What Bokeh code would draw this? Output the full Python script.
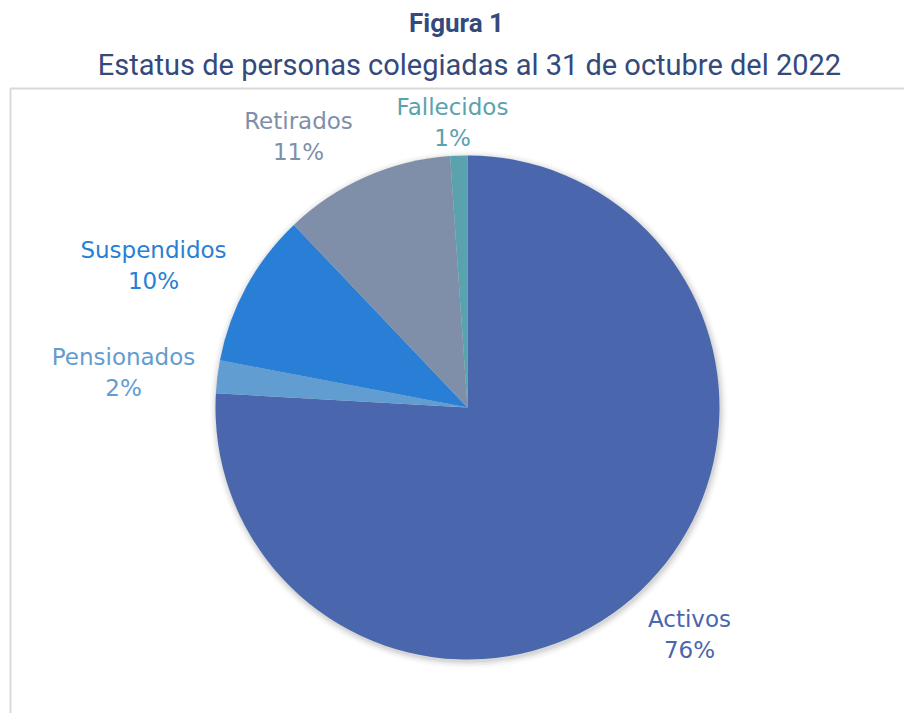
import numpy as np
from bokeh.plotting import figure
from bokeh.models import Range1d, ColumnDataSource
from bokeh.core.properties import value
from bokeh.embed import file_html
from bokeh.resources import INLINE

# ---- data ----
categories = ["Activos", "Pensionados", "Suspendidos", "Retirados", "Fallecidos"]
values = [75.9, 2.1, 9.9, 11.0, 1.1]
colors = ["#4A66AC", "#629DD1", "#297FD5", "#7F8FA9", "#5AA2AE"]
# label anchor points (page px: x, y of first line)
label_x = [689, 123, 153, 298, 452]
label_y = [618, 356, 249, 120, 106]

title_text = "Figura 1"
subtitle_text = "Estatus de personas colegiadas al 31 de octubre del 2022"
title_color = "#34497C"

W, H = 904, 713
def Y(py):
    return H - py

p = figure(width=W, height=H, output_backend="svg", toolbar_location=None,
           x_range=Range1d(0, W), y_range=Range1d(0, H), min_border=0)
p.axis.visible = False
p.grid.visible = False
p.outline_line_color = None
p.background_fill_color = "white"
p.border_fill_color = "white"

# frame around the chart area
p.quad(left=[10], right=[960], bottom=[Y(780)], top=[Y(88)],
       fill_color=None, line_color="#D9D9D9", line_width=2)

# pie
cx, cy, r = 467, Y(407), 252
# soft shadow
for i, a in enumerate([0.05, 0.04, 0.03, 0.02, 0.015]):
    p.circle(x=[cx + 1], y=[cy - 2], radius=r + 1 + i * 1.5, fill_color="#000000",
             fill_alpha=a, line_color=None)

fr = np.array(values) / sum(values)
cum = np.concatenate([[0], np.cumsum(fr)])
start = np.pi / 2 - cum[:-1] * 2 * np.pi
end = np.pi / 2 - cum[1:] * 2 * np.pi
src = ColumnDataSource(dict(start=start, end=end, color=colors, cat=categories))
p.wedge(x=cx, y=cy, radius=r, start_angle="start", end_angle="end",
        direction="clock", fill_color="color", line_color=None, source=src)

# labels
lab = ColumnDataSource(dict(
    x=label_x,
    y1=[Y(v) for v in label_y],
    y2=[Y(v + 31) for v in label_y],
    name=categories,
    pct=[f"{round(v)}%" for v in values],
    color=colors,
))
for col in ("name", "pct"):
    p.text(x="x", y="y1" if col == "name" else "y2", text=col, source=lab,
           text_color="color", text_font=value("DejaVu Sans"), text_font_size="23px",
           text_align="center", text_baseline="middle")

# titles
p.text(x=[456], y=[Y(22)], text=[title_text], text_font=value("Roboto"),
       text_font_style="bold", text_font_size="26px", text_color=title_color,
       text_align="center", text_baseline="middle")
p.text(x=[469], y=[Y(64)], text=[subtitle_text], text_font=value("Roboto"),
       text_font_size="29px", text_color=title_color,
       text_align="center", text_baseline="middle")

open("out.html", "w").write(file_html(p, INLINE))
